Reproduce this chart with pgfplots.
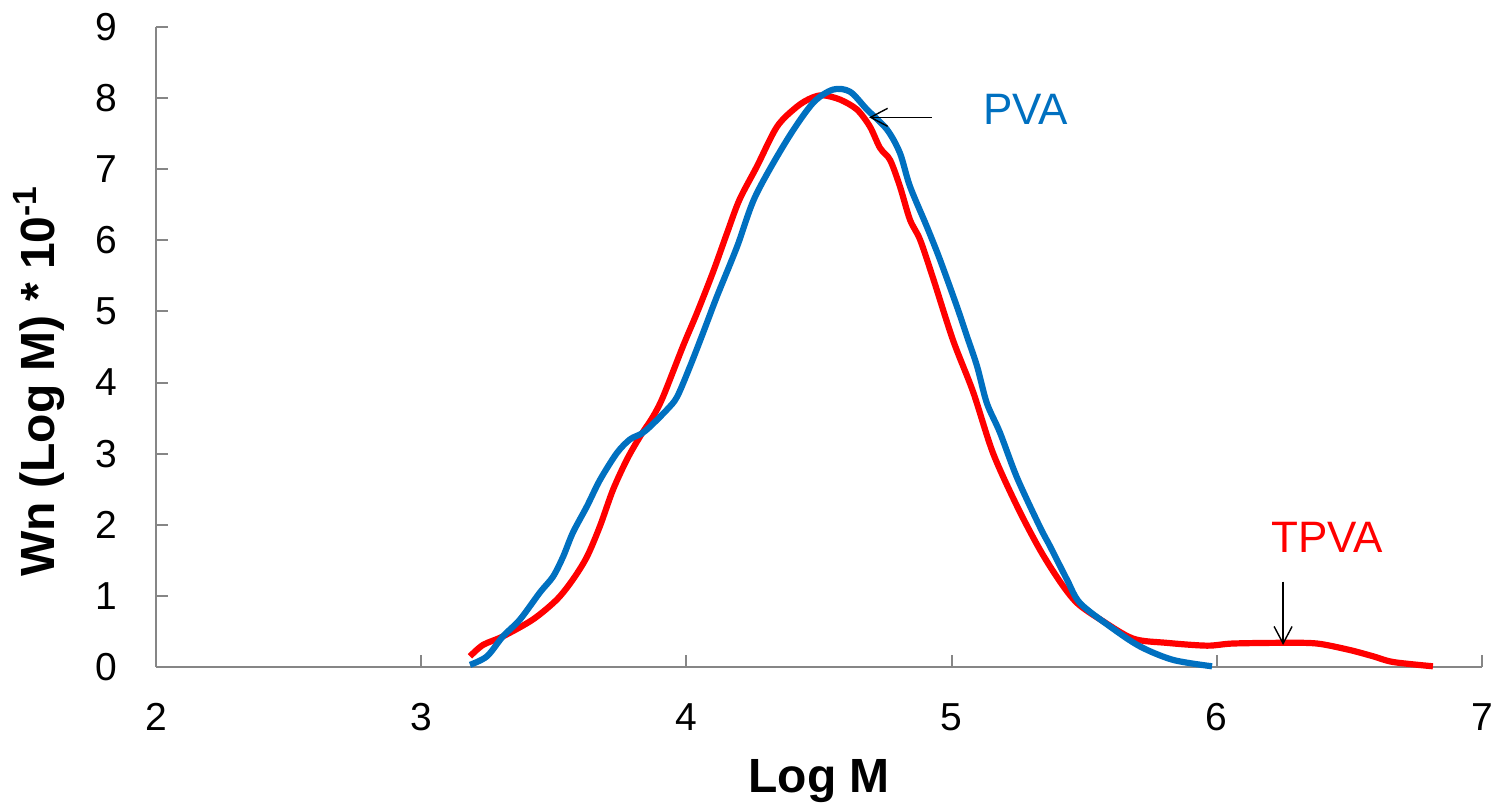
\documentclass[border=0pt]{standalone}
\usepackage{pgfplots}
\pgfplotsset{compat=1.18}
\usepackage{fontspec}
\setmainfont{Liberation Sans}
\usetikzlibrary{arrows.meta}
\definecolor{pvablue}{HTML}{0070C0}
\definecolor{tpvared}{HTML}{FF0000}
\definecolor{axgray}{HTML}{868686}

\pgfplotstableread{
x y
3.184 0.15
3.233 0.31
3.308 0.43
3.422 0.67
3.512 0.95
3.572 1.23
3.625 1.55
3.674 1.98
3.723 2.49
3.776 2.92
3.825 3.24
3.874 3.52
3.912 3.80
3.987 4.51
4.040 4.98
4.100 5.55
4.153 6.10
4.200 6.57
4.266 7.04
4.342 7.60
4.417 7.88
4.470 8.00
4.515 8.04
4.579 7.98
4.643 7.84
4.692 7.60
4.730 7.30
4.768 7.13
4.805 6.76
4.843 6.29
4.881 6.01
4.930 5.47
5.005 4.60
5.081 3.87
5.156 3.01
5.247 2.26
5.333 1.65
5.409 1.20
5.473 0.90
5.560 0.67
5.684 0.40
5.810 0.34
5.963 0.30
6.060 0.33
6.250 0.34
6.378 0.33
6.500 0.24
6.590 0.15
6.665 0.07
6.815 0.01
}\tpva

\pgfplotstableread{
x y
3.184 0.03
3.248 0.15
3.308 0.43
3.373 0.67
3.448 1.05
3.497 1.27
3.535 1.55
3.572 1.89
3.625 2.26
3.674 2.63
3.738 3.01
3.787 3.20
3.830 3.28
3.863 3.38
3.927 3.62
3.965 3.80
4.014 4.23
4.063 4.70
4.115 5.21
4.191 5.91
4.260 6.62
4.379 7.41
4.477 7.93
4.553 8.12
4.617 8.09
4.681 7.84
4.756 7.56
4.805 7.23
4.843 6.76
4.907 6.19
4.956 5.73
5.020 5.07
5.058 4.65
5.096 4.23
5.133 3.71
5.182 3.30
5.247 2.66
5.333 1.97
5.371 1.70
5.435 1.23
5.484 0.90
5.597 0.57
5.710 0.29
5.835 0.10
5.982 0.01
}\pva

\begin{document}
\begin{tikzpicture}
\begin{axis}[
  scale only axis,
  width=663pt, height=320pt,
  xmin=2, xmax=7, ymin=0, ymax=9,
  xtick={2,3,4,5,6,7}, ytick={0,1,2,3,4,5,6,7,8,9},
  axis lines=left,
  axis line style={-, draw=axgray, line width=1pt},
  tick style={draw=axgray, line width=1pt},
  tick align=inside,
  major tick length=6pt,
  /pgf/number format/assume math mode=true,
  tick label style={font=\fontsize{19.5}{21}\selectfont, inner sep=0pt},
  xticklabel style={anchor=north, yshift=-18pt},
  yticklabel style={anchor=east, xshift=-19pt},
  xlabel={\textbf{Log M}},
  ylabel={\textbf{Wn (Log M) * 10\textsuperscript{-1}}},
  label style={font=\fontsize{24}{26}\selectfont, inner sep=0pt},
  xlabel style={at={([yshift=-46pt]axis description cs:0.5,0)}, anchor=north},
  ylabel style={at={([xshift=-50.5pt,yshift=-17pt]axis description cs:0,0.5)}, anchor=base},
  clip=false,
]
\addplot[tpvared, line width=3.1pt, smooth, tension=0.5] table[x=x,y=y] {\tpva};
\addplot[pvablue, line width=3.1pt, smooth, tension=0.5] table[x=x,y=y] {\pva};
\draw[black, line width=0.7pt, -{Straight Barb[length=8.5pt,width=9pt]}] (axis cs:4.926,7.73) -- (axis cs:4.689,7.73);
\draw[black, line width=0.7pt, -{Straight Barb[length=8.5pt,width=9pt]}] (axis cs:6.25,1.20) -- (axis cs:6.25,0.31);
\node[anchor=base west, inner sep=0pt, text=pvablue, font=\fontsize{22}{24}\selectfont] at (axis cs:5.118,7.63) {PVA};
\node[anchor=base west, inner sep=0pt, text=tpvared, font=\fontsize{22}{24}\selectfont] at (axis cs:6.204,1.61) {TPVA};
\end{axis}
\pgfresetboundingbox
\useasboundingbox (-78pt,-68pt) rectangle (669.5pt,333.5pt);
\end{tikzpicture}
\end{document}
